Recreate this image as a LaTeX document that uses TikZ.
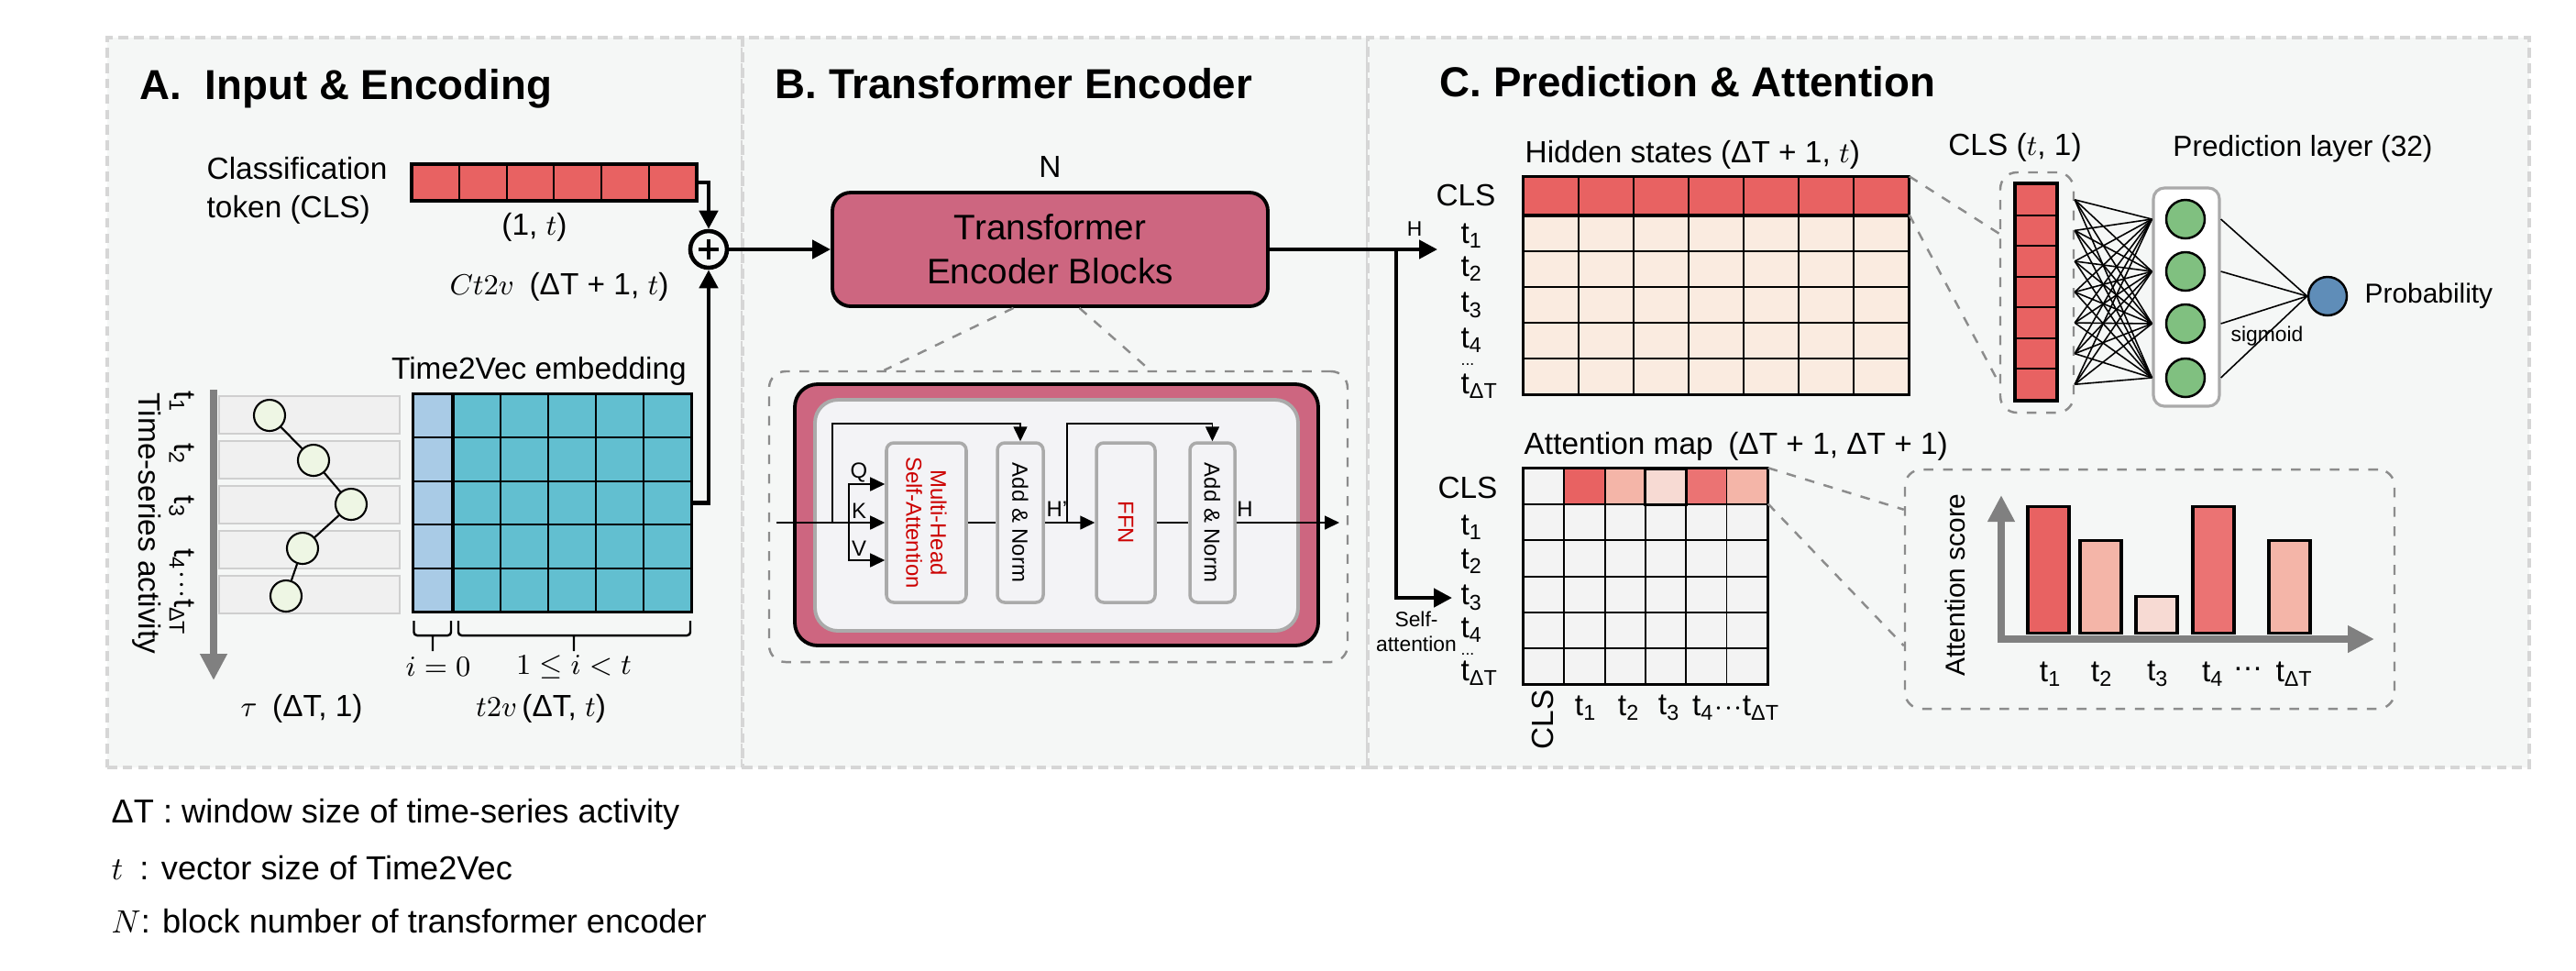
\documentclass[tikz,border=0pt]{standalone}
\usepackage{fontspec}
\setmainfont{Liberation Sans}
\usetikzlibrary{positioning,arrows.meta}
\definecolor{panelbg}{HTML}{F5F7F6}
\definecolor{panelline}{HTML}{D6D6D6}
\definecolor{clsred}{HTML}{E86262}
\definecolor{t2vlight}{HTML}{A9CBE6}
\definecolor{t2vteal}{HTML}{62BFD0}
\definecolor{blockpink}{HTML}{CD6680}
\definecolor{innerbg}{HTML}{F3F3F6}
\definecolor{innerline}{HTML}{AAAAAA}
\definecolor{headred}{HTML}{CC0000}
\definecolor{hidpeach}{HTML}{FAEBE0}
\definecolor{attncell}{HTML}{F3F3F3}
\definecolor{attnA}{HTML}{E86262}
\definecolor{attnB}{HTML}{F4B5A8}
\definecolor{attnC}{HTML}{F7DAD3}
\definecolor{attnD}{HTML}{EB7373}
\definecolor{neurongreen}{HTML}{80C080}
\definecolor{probblue}{HTML}{5F8DB8}
\definecolor{rowgray}{HTML}{F0F0F0}
\definecolor{rowline}{HTML}{CFCFCF}
\definecolor{pointfill}{HTML}{EEF6E4}
\definecolor{axisgray}{HTML}{808080}
\definecolor{zoomgray}{HTML}{8C8C8C}
\tikzset{
  panel/.style={draw=panelline, fill=panelbg, line width=0.9pt, dash pattern=on 3pt off 1.8pt, inner sep=0pt},
  paneltitle/.style={font=\fontsize{13}{15}\selectfont\bfseries, anchor=base west, inner sep=0pt},
  lbl/.style={font=\fontsize{9.5}{12}\selectfont, inner sep=0pt},
  legendtext/.style={font=\fontsize{10.3}{12}\selectfont, anchor=west, inner sep=0pt},
  tinylbl/.style={font=\fontsize{6.5}{7.8}\selectfont, inner sep=0pt, align=center},
  innerlbl/.style={font=\fontsize{6.8}{7.6}\selectfont, inner sep=0pt, align=center},
  mainarrow/.style={-{Triangle[length=2mm,width=2mm]}, line width=1.3pt},
  thinarrow/.style={-{Triangle[length=1.6mm,width=1.5mm]}, line width=0.45pt},
  thinline/.style={line width=0.45pt},
  grayarrow/.style={-{Triangle[length=2.9mm,width=2.8mm]}, line width=2.4pt, draw=axisgray},
  zoomline/.style={draw=zoomgray, dashed, line width=0.7pt},
  zoombox/.style={draw=zoomgray, dashed, line width=0.7pt, rounded corners=0.18cm, inner sep=0pt},
  matframe/.style={line width=0.9pt},
  gridline/.style={line width=0.55pt},
  block/.style={draw, line width=1.1pt, fill=blockpink, rounded corners=0.2cm, minimum width=4.75cm, minimum height=1.24cm, align=center, font=\fontsize{11}{13.7}\selectfont},
  subbox/.style={draw=innerline, line width=1pt, fill=innerbg, rounded corners=0.08cm, minimum height=1.74cm, inner sep=0pt},
  rowbox/.style={draw=rowline, line width=0.6pt, fill=rowgray, minimum width=1.97cm, minimum height=0.41cm, inner sep=0pt},
  tspoint/.style={circle, draw, line width=0.6pt, fill=pointfill, minimum size=0.34cm, inner sep=0pt},
  neuron/.style={circle, draw, line width=0.7pt, minimum size=0.42cm, inner sep=0pt},
  vcell/.style={draw, line width=0.55pt, fill=clsred, minimum width=0.44cm, minimum height=0.3357cm, inner sep=0pt},
  scorebar/.style={draw, line width=0.9pt, anchor=south, minimum width=0.45cm, inner sep=0pt},
  fcline/.style={line width=0.45pt},
  bracket/.style={line width=0.7pt, rounded corners=1pt}
}
\begin{document}
\begin{tikzpicture}
  \fill[white] (0,0) rectangle (28.10,-10.58);
  \useasboundingbox (0,0) rectangle (28.10,-10.58);
  \node[panel, minimum width=6.93cm, minimum height=7.96cm] (panelA) at (4.635,-4.39) {};
  \node[panel, minimum width=6.82cm, minimum height=7.96cm] (panelB) at (11.51,-4.39) {};
  \node[panel, minimum width=12.67cm, minimum height=7.96cm] (panelC) at (21.255,-4.39) {};
  \node[paneltitle] (titleA) at (1.52,-1.08) {A.\ \ Input \& Encoding};
  \node[paneltitle] (titleB) at (8.45,-1.07) {B. Transformer Encoder};
  \node[paneltitle] (titleC) at (15.70,-1.05) {C. Prediction \& Attention};

  \node[lbl, align=left, anchor=west] (clstext) at (2.25,-2.08) {Classification\\token (CLS)};
  \node[draw, line width=0.9pt, fill=clsred, minimum width=3.11cm, minimum height=0.40cm, inner sep=0pt] (clsbar) at (6.045,-1.99) {};
  \foreach \k in {1,...,5} \draw[gridline] (4.49+\k*0.518,-1.79) -- ++(0,-0.40);
  \node[lbl] (clsdim) at (5.83,-2.48) {(1, $t$)};
  \node[circle, draw, line width=1.3pt, fill=panelbg, minimum size=0.40cm, inner sep=0pt] (plus) at (7.73,-2.72) {};
  \draw[line width=1.3pt] ([xshift=-0.11cm]plus.center) -- ([xshift=0.11cm]plus.center) ([yshift=-0.11cm]plus.center) -- ([yshift=0.11cm]plus.center);
  \draw[mainarrow] (clsbar.east) -| (plus.north);
  \node[lbl] (ct2v) at (6.10,-3.13) {$Ct2v$\enspace(ΔT + 1, $t$)};
  \node[lbl] (t2vtitle) at (5.88,-4.05) {Time2Vec embedding};
  \node[fill=t2vteal, minimum width=3.03cm, minimum height=2.37cm, inner sep=0pt] (t2v) at (6.025,-5.485) {};
  \fill[t2vlight] (4.51,-4.30) rectangle (4.94,-6.67);
  \foreach \k in {1,...,4} \draw[gridline] (4.94+\k*0.52,-4.30) -- ++(0,-2.37);
  \foreach \k in {1,...,4} \draw[gridline] (4.51,-4.30-\k*0.474) -- ++(3.03,0);
  \draw[matframe] (4.94,-4.30) -- ++(0,-2.37);
  \draw[matframe] (t2v.north west) rectangle (t2v.south east);
  \draw[mainarrow] (t2v.east) -| (plus.south);
  \foreach \k in {0,...,4} \node[rowbox] (row\k) at (3.375,-4.525-\k*0.49) {};
  \coordinate (tstart) at (2.33,-4.25);
  \coordinate (tend) at (2.33,-7.42);
  \draw[grayarrow] (tstart) -- (tend);
  \foreach \n/\x/\y in {1/2.94/4.53,2/3.42/5.02,3/3.83/5.50,4/3.30/5.98,5/3.12/6.50} \node[tspoint] (p\n) at (\x,-\y) {};
  \draw[line width=0.6pt] (p1) -- (p2) -- (p3) -- (p4) -- (p5);
  \node[lbl, rotate=-90] (tsname) at (1.60,-5.71) {Time-series activity};
  \node[lbl, rotate=-90] (tsticks) at (1.98,-5.60) {t\textsubscript{1}\quad t\textsubscript{2}\quad t\textsubscript{3}\quad t\textsubscript{4}$\cdot\!\cdot\!\cdot$t\textsubscript{ΔT}};
  \draw[bracket] (4.515,-6.77) |- (4.92,-6.93) -- (4.92,-6.77) (4.72,-6.93) -- (4.72,-7.10);
  \draw[bracket] (5.00,-6.77) |- (7.53,-6.93) -- (7.53,-6.77) (6.26,-6.93) -- (6.26,-7.10);
  \node[lbl] (izero) at (4.78,-7.27) {$i=0$};
  \node[lbl] (irange) at (6.26,-7.27) {$1\le i<t$};
  \node[lbl] (t2vdim) at (5.90,-7.73) {$t2v\,$(ΔT, $t$)};
  \node[lbl] (taudim) at (3.29,-7.73) {$\tau$\enspace(ΔT, 1)};

  \node[block] (block) at (11.455,-2.72) {Transformer\\Encoder Blocks};
  \node[lbl, above=0.14cm of block] (nlabel) {N};
  \draw[mainarrow] (plus) -- (block);
  \coordinate (split) at (15.23,-2.72);
  \coordinate (hin) at (15.68,-2.72);
  \coordinate (ain) at (15.84,-6.52);
  \draw[mainarrow] (block) -- (hin);
  \draw[mainarrow] (split) |- (ain);
  \node[tinylbl] (hlabel) at (15.43,-2.50) {H};
  \node[tinylbl] (salabel) at (15.45,-6.89) {Self-\\attention};
  \node[zoombox, minimum width=6.31cm, minimum height=3.17cm] (detail) at (11.545,-5.635) {};
  \draw[zoomline] ([xshift=-0.4cm]block.south) -- ([xshift=-1.9cm]detail.north);
  \draw[zoomline] ([xshift=0.32cm]block.south) -- ([xshift=1.0cm]detail.north);
  \node[draw, line width=1.1pt, fill=blockpink, rounded corners=0.25cm, minimum width=5.71cm, minimum height=2.85cm] (encframe) at (11.525,-5.615) {};
  \node[draw=innerline, line width=1.1pt, fill=innerbg, rounded corners=0.25cm, minimum width=5.27cm, minimum height=2.52cm] (encinner) at (11.525,-5.62) {};
  \node[subbox, minimum width=0.87cm] (mhsa) at (10.105,-5.70) {};
  \node[subbox, minimum width=0.50cm] (an1) at (11.13,-5.70) {};
  \node[subbox, minimum width=0.64cm] (ffn) at (12.28,-5.70) {};
  \node[subbox, minimum width=0.49cm] (an2) at (13.225,-5.70) {};
  \node[innerlbl, rotate=-90, text=headred] (mhsatext) at (mhsa) {Multi-Head\\Self-Attention};
  \node[innerlbl, rotate=-90] (an1text) at (an1) {Add \& Norm};
  \node[innerlbl, rotate=-90, text=headred] (ffntext) at (ffn) {FFN};
  \node[innerlbl, rotate=-90] (an2text) at (an2) {Add \& Norm};
  \coordinate (encin) at (8.47,-5.70);
  \coordinate (encout) at (14.61,-5.70);
  \coordinate (qkv) at (9.26,-5.70);
  \coordinate (res1) at (9.08,-5.70);
  \coordinate (res2) at (11.64,-5.70);
  \draw[thinarrow] (encin) -- (mhsa.west);
  \draw[thinarrow] (qkv) |- ([yshift=0.42cm]mhsa.west);
  \draw[thinarrow] (qkv) |- ([yshift=-0.41cm]mhsa.west);
  \draw[thinarrow] (res1) -- ++(0,1.08) -| (an1.north);
  \draw[thinline] (mhsa.east) -- (an1.west);
  \draw[thinarrow] (an1.east) -- (ffn.west);
  \draw[thinarrow] (res2) -- ++(0,1.08) -| (an2.north);
  \draw[thinline] (ffn.east) -- (an2.west);
  \draw[thinarrow] (an2.east) -- (encout);
  \node[innerlbl] (qlabel) at (9.37,-5.15) {Q};
  \node[innerlbl] (klabel) at (9.37,-5.57) {K};
  \node[innerlbl] (vlabel) at (9.37,-5.98) {V};
  \node[innerlbl] (hprime) at (11.53,-5.55) {H’};
  \node[innerlbl] (hout) at (13.58,-5.55) {H};

  \node[lbl, anchor=base west] (hidtitle) at (16.63,-1.77) {Hidden states (ΔT + 1, $t$)};
  \node[fill=hidpeach, minimum width=4.20cm, minimum height=2.37cm, inner sep=0pt] (hid) at (18.72,-3.115) {};
  \fill[clsred] (16.62,-1.93) rectangle (20.82,-2.35);
  \foreach \k in {1,...,6} \draw[gridline] (16.62+\k*0.6,-1.93) -- ++(0,-2.37);
  \foreach \y in {2.74,3.13,3.52,3.91} \draw[gridline] (16.62,-\y) -- ++(4.2,0);
  \draw[matframe] (16.62,-2.35) -- ++(4.2,0);
  \draw[matframe] (hid.north west) rectangle (hid.south east);
  \node[lbl] (hidcls) at (15.99,-2.13) {CLS};
  \foreach \n/\y in {1/2.57,2/2.93,3/3.33,4/3.71} \node[lbl, anchor=west] (hidt\n) at (15.93,-\y) {t\textsubscript{\n}};
  \node[lbl, font=\fontsize{5}{5}\selectfont] (hiddots) at (16.01,-3.975) {...};
  \node[lbl, anchor=west] (hidtT) at (15.93,-4.21) {t\textsubscript{ΔT}};
  \node[lbl] (clsvectitle) at (21.98,-1.61) {CLS ($t$, 1)};
  \node[zoombox, minimum width=0.80cm, minimum height=2.62cm] (clsbox) at (22.22,-3.19) {};
  \foreach \i in {0,...,6} \node[vcell] (c\i) at (22.21,-2.178-\i*0.3357) {};
  \draw[matframe] (c0.north west) rectangle (c6.south east);
  \draw[zoomline] (hid.north east) -- ([yshift=-0.68cm]clsbox.north west);
  \draw[zoomline] ([yshift=-0.42cm]hid.north east) -- ([yshift=0.33cm]clsbox.south west);
  \node[lbl, font=\fontsize{9}{11}\selectfont] (predtitle) at (25.12,-1.62) {Prediction layer (32)};
  \node[draw=innerline, line width=0.9pt, fill=white, rounded corners=0.12cm, minimum width=0.72cm, minimum height=2.38cm, inner sep=0pt] (predbox) at (23.85,-3.24) {};
  \foreach \j/\y in {1/2.39,2/2.96,3/3.53,4/4.12} \node[neuron, fill=neurongreen] (g\j) at (23.84,-\y) {};
  \foreach \i in {0,...,6} \foreach \j in {1,...,4} \draw[fcline] (clsbox.east |- c\i) -- (predbox.west |- g\j);
  \node[neuron, fill=probblue] (prob) at (25.39,-3.23) {};
  \foreach \j in {1,...,4} \draw[fcline] (predbox.east |- g\j) -- (prob.west);
  \node[lbl, anchor=west, font=\fontsize{8.5}{10}\selectfont] (problabel) at (25.79,-3.23) {Probability};
  \node[tinylbl] (sigmoid) at (24.73,-3.67) {sigmoid};

  \node[lbl, anchor=base west] (attntitle) at (16.62,-4.95) {Attention map\enspace(ΔT + 1, ΔT + 1)};
  \node[fill=attncell, minimum width=2.66cm, minimum height=2.35cm, inner sep=0pt] (attn) at (17.95,-6.285) {};
  \foreach \k/\c in {1/attnA,2/attnB,3/attnC,4/attnD,5/attnB} \fill[\c] (16.62+\k*0.443,-5.11) rectangle ++(0.443,-0.392);
  \foreach \k in {1,...,5} \draw[gridline] (16.62+\k*0.443,-5.11) -- ++(0,-2.35);
  \foreach \k in {1,...,5} \draw[gridline] (16.62,-5.11-\k*0.392) -- ++(2.66,0);
  \draw[matframe] (16.62+3*0.443,-5.11) rectangle ++(0.443,-0.392);
  \draw[matframe] (attn.north west) rectangle (attn.south east);
  \node[lbl] (attncls) at (16.01,-5.32) {CLS};
  \foreach \n/\y in {1/5.75,2/6.12,3/6.52,4/6.87} \node[lbl, anchor=west] (attnt\n) at (15.93,-\y) {t\textsubscript{\n}};
  \node[lbl, font=\fontsize{5}{5}\selectfont] (attndots) at (16.01,-7.135) {...};
  \node[lbl, anchor=west] (attntT) at (15.93,-7.34) {t\textsubscript{ΔT}};
  \node[lbl, rotate=90] (colcls) at (16.83,-7.85) {CLS};
  \foreach \n/\x in {1/17.30,2/17.77,3/18.21} \node[lbl] (colt\n) at (\x,-7.72) {t\textsubscript{\n}};
  \node[lbl] (colrest) at (18.94,-7.72) {t\textsubscript{4}$\cdot\!\cdot\!\cdot$t\textsubscript{ΔT}};
  \node[zoombox, minimum width=5.34cm, minimum height=2.61cm] (chart) at (23.45,-6.425) {};
  \draw[zoomline] (attn.north east) -- ([yshift=-0.45cm]chart.north west);
  \draw[zoomline] ([yshift=-0.392cm]attn.north east) -- ([yshift=0.70cm]chart.south west);
  \coordinate (origin) at (21.83,-6.97);
  \coordinate (ytip) at (21.83,-5.40);
  \coordinate (xtip) at (25.90,-6.97);
  \draw[grayarrow] ([yshift=-0.04cm]origin) -- (ytip);
  \draw[grayarrow] ([xshift=-0.04cm]origin) -- (xtip);
  \foreach \n/\x/\h/\c in {1/22.345/1.38/attnA,2/22.915/1.01/attnB,3/23.525/0.40/attnC,4/24.145/1.38/attnD,5/24.975/1.01/attnB} \node[scorebar, fill=\c, minimum height=\h cm] (bar\n) at (\x,-6.92) {};
  \foreach \n/\x in {1/22.37,2/22.93,3/23.54,4/24.14} \node[lbl] (bart\n) at (\x,-7.35) {t\textsubscript{\n}};
  \node[lbl] (bardots) at (24.52,-7.30) {…};
  \node[lbl] (bartT) at (25.03,-7.35) {t\textsubscript{ΔT}};
  \node[lbl, rotate=90, font=\fontsize{8.5}{10}\selectfont] (scorelabel) at (21.33,-6.38) {Attention score};

  \node[legendtext] (legdt) at (1.21,-8.88) {ΔT : window size of time-series activity};
  \node[legendtext] (legt) at (1.21,-9.47) {$t$\enspace: vector size of Time2Vec};
  \node[legendtext] (legn) at (1.21,-10.05) {$N$: block number of transformer encoder};
\end{tikzpicture}
\end{document}
